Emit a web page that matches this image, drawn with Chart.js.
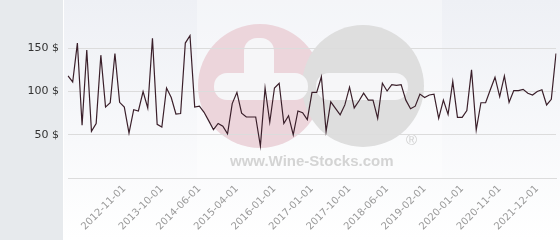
<!DOCTYPE html>
<html>
<head>
<meta charset="utf-8">
<script src="https://cdn.jsdelivr.net/npm/chart.js@4"></script>
<style>
  html, body { margin: 0; padding: 0; background: #ffffff; }
  #wrap { width: 560px; height: 240px; position: relative; }
  canvas { display: block; }
</style>
</head>
<body>
<div id="wrap"><canvas id="c" width="560" height="240"></canvas></div>
<script>
// ---- data ----
const dates = [
  '2011-11-01','2011-12-01','2012-01-01','2012-02-01','2012-03-01','2012-04-01','2012-05-01','2012-06-01','2012-07-01','2012-08-01',
  '2012-09-01','2012-10-01','2012-11-01','2012-12-01','2013-01-01','2013-03-01','2013-04-01','2013-06-01','2013-07-01','2013-09-01',
  '2013-10-01','2013-11-01','2013-12-01','2014-01-01','2014-02-01','2014-03-01','2014-04-01','2014-05-01','2014-06-01','2014-07-01',
  '2014-08-01','2014-09-01','2014-11-01','2014-12-01','2015-01-01','2015-03-01','2015-04-01','2015-05-01','2015-06-01','2015-07-01',
  '2015-08-01','2015-09-01','2015-10-01','2015-12-01','2016-01-01','2016-03-01','2016-04-01','2016-06-01','2016-07-01','2016-09-01',
  '2016-10-01','2016-12-01','2017-01-01','2017-02-01','2017-03-01','2017-04-01','2017-05-01','2017-06-01','2017-07-01','2017-09-01',
  '2017-10-01','2017-11-01','2017-12-01','2018-01-01','2018-02-01','2018-03-01','2018-04-01','2018-05-01','2018-06-01','2018-07-01',
  '2018-08-01','2018-09-01','2018-10-01','2018-11-01','2018-12-01','2019-01-01','2019-02-01','2019-03-01','2019-05-01','2019-06-01',
  '2019-07-01','2019-09-01','2019-10-01','2019-12-01','2020-01-01','2020-02-01','2020-03-01','2020-04-01','2020-06-01','2020-07-01',
  '2020-08-01','2020-10-01','2020-11-01','2020-12-01','2021-02-01','2021-04-01','2021-05-01','2021-07-01','2021-08-01','2021-10-01',
  '2021-12-01','2022-01-01','2022-02-01','2022-03-01','2022-04-01'
];
const prices = [
  118,111,156,61,148,54,63,142,82,87,
  144,87.5,82,52,79,77.5,100,81,161.5,62,
  59,104,93,74,74.5,156,164.6,82,83,76,
  66,56,63,60,51,86,99,75,70.5,70.5,
  70.5,37,104,64.5,104,109.5,63,72,50,77.5,
  75.5,67.5,99,99,117,54,88,80.5,73,84.5,
  105,81,89,98,90,90,69,109.5,100.6,108,
  107,108,90,80,83,97,93,96,97,69,
  90,73.5,111.5,70,70,78,125,55.5,87,87,
  102,116.5,94,118,87.5,101,101,102.5,98,96,
  100,102,84.5,91,144
];
const shownDates = ['2012-11-01','2013-10-01','2014-06-01','2015-04-01','2016-01-01','2017-01-01',
  '2017-10-01','2018-06-01','2019-02-01','2020-01-01','2020-11-01','2021-12-01'];
const yTicks = [50, 100, 150];
const currency = '$';

// ---- background + watermark ----
const decor = {
  id: 'decor',
  beforeDraw(chart) {
    const ctx = chart.ctx;
    const ca = chart.chartArea;
    const W = chart.width, H = chart.height;
    const splitX = ca.left - 5;
    ctx.save();
    ctx.fillStyle = '#e7eaed';
    ctx.fillRect(0, 0, splitX, H);
    const g = ctx.createLinearGradient(0, 0, 0, H);
    g.addColorStop(0, '#eef0f5');
    g.addColorStop(1, '#ffffff');
    ctx.fillStyle = g;
    ctx.fillRect(splitX, 0, W - splitX, H);
    ctx.fillStyle = '#ffffff';
    ctx.fillRect(splitX, 0, 1, H);

    // watermark
    ctx.fillStyle = 'rgba(255,255,255,0.35)';
    ctx.fillRect(197, 0, 245, 178);
    ctx.fillStyle = '#ecd5db';
    ctx.beginPath(); ctx.arc(260, 86, 62, 0, Math.PI * 2); ctx.fill();
    ctx.fillStyle = '#dedede';
    ctx.beginPath(); ctx.arc(363, 86, 61, 0, Math.PI * 2); ctx.fill();
    ctx.fillStyle = '#f6f6f8';
    function rr(x, y, w, h, r) {
      ctx.beginPath();
      ctx.moveTo(x + r, y);
      ctx.arcTo(x + w, y, x + w, y + h, r);
      ctx.arcTo(x + w, y + h, x, y + h, r);
      ctx.arcTo(x, y + h, x, y, r);
      ctx.arcTo(x, y, x + w, y, r);
      ctx.closePath(); ctx.fill();
    }
    rr(214, 73, 94, 27, 13);
    rr(244, 38, 30, 62, 13);
    rr(316, 73, 92, 27, 13);
    ctx.fillStyle = '#d4d4d4';
    ctx.font = 'bold 15px "Liberation Sans", Arial, sans-serif';
    ctx.textAlign = 'left';
    ctx.textBaseline = 'alphabetic';
    ctx.fillText('www.Wine-Stocks.com', 230, 166);
    ctx.font = '15px "Liberation Sans", Arial, sans-serif';
    ctx.fillStyle = '#d0d0d0';
    ctx.fillText('\u00ae', 406, 145);
    ctx.restore();
  }
};

new Chart(document.getElementById('c'), {
  type: 'line',
  data: {
    labels: dates,
    datasets: [{
      data: prices,
      borderColor: '#3a1f2a',
      borderWidth: 1.2,
      pointRadius: 0,
      tension: 0,
      fill: false
    }]
  },
  options: {
    responsive: false,
    animation: false,
    devicePixelRatio: 1,
    layout: { padding: { top: 5, right: 4, left: 0, bottom: 0 } },
    plugins: { legend: { display: false }, tooltip: { enabled: false } },
    scales: {
      x: {
        grid: { display: false, drawTicks: false },
        border: { display: true, color: '#dcdcdc', width: 1 },
        afterFit(scale) {
          scale.height = 62;
          scale.paddingLeft = 0; scale.paddingRight = 0;
          scale.paddingTop = 0; scale.paddingBottom = 0;
        },
        ticks: {
          autoSkip: false,
          maxRotation: 45,
          minRotation: 45,
          padding: 5,
          color: '#9a9a9a',
          font: { family: '"DejaVu Sans", sans-serif', size: 10 },
          callback(v, i) {
            const d = dates[i];
            return shownDates.includes(d) ? d : null;
          }
        }
      },
      y: {
        min: 0,
        max: 200,
        afterFit(scale) {
          scale.width = 68;
          scale.paddingTop = 0; scale.paddingBottom = 0;
          scale.paddingLeft = 0; scale.paddingRight = 0;
        },
        afterBuildTicks(scale) {
          scale.ticks = [0].concat(yTicks).concat([200]).map(v => ({ value: v }));
        },
        border: { display: false },
        grid: {
          drawTicks: false,
          color(ctx) { return (ctx.tick && ctx.tick.value === 200) ? 'rgba(0,0,0,0)' : '#dcdcdc'; },
          lineWidth: 1
        },
        ticks: {
          padding: 9,
          color: '#333333',
          font: { family: '"DejaVu Sans", sans-serif', size: 11 },
          callback(v) { return yTicks.includes(v) ? v + ' ' + currency : ''; }
        }
      }
    }
  },
  plugins: [decor]
});
</script>
</body>
</html>
